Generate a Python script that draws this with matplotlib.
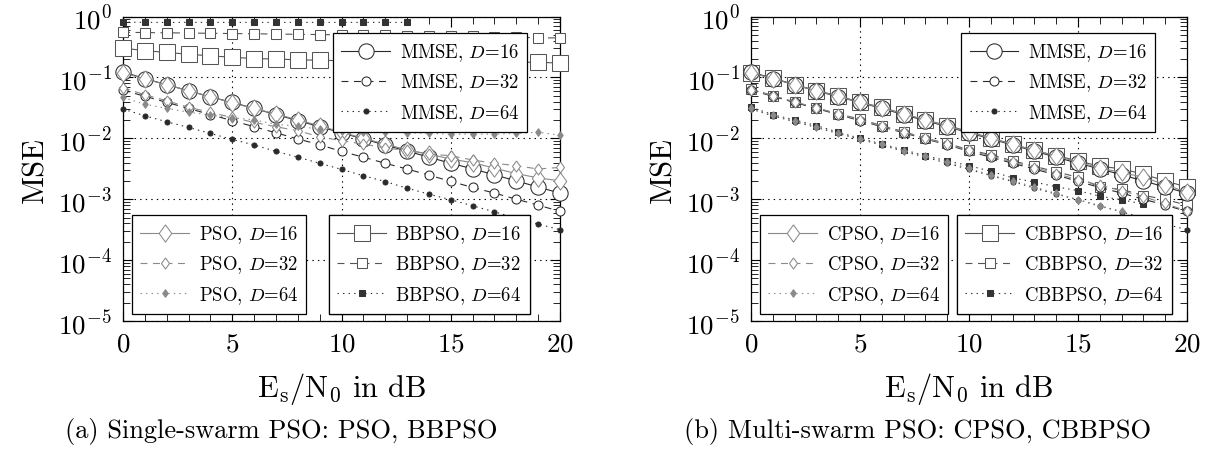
import matplotlib
matplotlib.use("Agg")
import matplotlib.pyplot as plt
from matplotlib.ticker import LogLocator, NullFormatter

plt.rcParams.update({
    "font.family": "serif",
    "font.serif": ["cmr10"],
    "mathtext.fontset": "cm",
    "axes.unicode_minus": False,
    "axes.formatter.use_mathtext": True,
    "lines.scale_dashes": False,
})

snr = list(range(21))

mmse_16 = [0.123, 0.0955, 0.0759, 0.0603, 0.0479, 0.0389, 0.0309, 0.0245, 0.0195, 0.0155, 0.0123,
           0.00977, 0.00776, 0.00617, 0.0049, 0.00389, 0.00316, 0.00251, 0.0020, 0.00158, 0.00126]
mmse_32 = [0.0617, 0.049, 0.0389, 0.0309, 0.0245, 0.0195, 0.0155, 0.0123, 0.00977, 0.00783, 0.0061,
           0.0049, 0.00389, 0.00313, 0.00249, 0.00196, 0.00156, 0.00126, 0.0010, 0.0008, 0.00063]
mmse_64 = [0.0302, 0.0234, 0.0187, 0.0151, 0.012, 0.0096, 0.00776, 0.0061, 0.0049, 0.00389, 0.00309,
           0.00243, 0.00195, 0.00152, 0.00121, 0.00098, 0.00078, 0.00062, 0.00049, 0.00039, 0.000316]

pso_16 = [0.120, 0.094, 0.0759, 0.0604, 0.0482, 0.038, 0.0309, 0.0251, 0.020, 0.0161, 0.0126,
          0.010, 0.00804, 0.00646, 0.0055, 0.00457, 0.00398, 0.00324, 0.00263, 0.00224, 0.0020]
pso_32 = [0.0676, 0.0519, 0.0414, 0.0324, 0.0266, 0.022, 0.0182, 0.0155, 0.0133, 0.0106, 0.00912,
          0.00804, 0.00692, 0.00631, 0.0055, 0.00518, 0.0044, 0.00389, 0.00355, 0.00313, 0.00333]
pso_64 = [0.0468, 0.0363, 0.0309, 0.0269, 0.024, 0.0219, 0.020, 0.017, 0.0158, 0.0141, 0.0132,
          0.0129, 0.0126, 0.0123, 0.012, 0.0117, 0.0117, 0.0117, 0.012, 0.0126, 0.0112]

bbpso_16 = [0.302, 0.275, 0.257, 0.24, 0.226, 0.214, 0.204, 0.200, 0.195, 0.191, 0.188,
            0.186, 0.184, 0.182, 0.182, 0.180, 0.178, 0.178, 0.178, 0.177, 0.172]
bbpso_32 = [0.55, 0.545, 0.54, 0.535, 0.53, 0.525, 0.52, 0.515, 0.51, 0.505, 0.50,
            0.495, 0.49, 0.485, 0.48, 0.475, 0.47, 0.465, 0.46, 0.445, 0.445]
bbpso_64 = [0.81, 0.80, 0.80, 0.80, 0.80, 0.80, 0.80, 0.80, 0.80, 0.80, 0.80, 0.80, 0.80, 0.80]

cpso_16 = [0.120, 0.0955, 0.0759, 0.0603, 0.049, 0.0389, 0.0316, 0.0251, 0.020, 0.0158, 0.0126,
           0.010, 0.00794, 0.00631, 0.00513, 0.00407, 0.00324, 0.00275, 0.00229, 0.00174, 0.00129]
cpso_32 = [0.0631, 0.0501, 0.0398, 0.0316, 0.0251, 0.020, 0.0158, 0.0126, 0.010, 0.00794, 0.00631,
           0.00513, 0.00407, 0.00331, 0.00263, 0.00209, 0.0017, 0.00138, 0.0011, 0.00085, 0.00064]
cpso_64 = [0.0310, 0.0240, 0.0192, 0.0155, 0.0123, 0.0099, 0.0080, 0.0063, 0.0051, 0.0041, 0.0032,
           0.0025, 0.0020, 0.0016, 0.00125, 0.00098, 0.00076, 0.00063]

cbbpso_16 = [0.120, 0.0977, 0.0759, 0.0603, 0.0501, 0.0389, 0.0324, 0.0251, 0.020, 0.0162, 0.0129,
             0.010, 0.00804, 0.00631, 0.00518, 0.00427, 0.00347, 0.00316, 0.00257, 0.0020, 0.00158]
cbbpso_32 = [0.0646, 0.0501, 0.0389, 0.0316, 0.0251, 0.0207, 0.0161, 0.0129, 0.010, 0.00824, 0.00646,
             0.00537, 0.00427, 0.00347, 0.00282, 0.00229, 0.00158, 0.00145, 0.00115, 0.0010, 0.00079]
cbbpso_64 = [0.0324, 0.0245, 0.020, 0.0162, 0.0126, 0.010, 0.00804, 0.00646, 0.00518, 0.00427, 0.00355,
             0.00288, 0.00224, 0.00191, 0.0016, 0.00138, 0.00112, 0.00098, 0.00083]

x_ticks = [0, 5, 10, 15, 20]
captions = ["(a) Single-swarm PSO: PSO, BBPSO", "(b) Multi-swarm PSO: CPSO, CBBPSO"]

DIAMOND = [(0, 1), (0.72, 0), (0, -1), (-0.72, 0), (0, 1)]
SOLID = "-"
DASHED = (0, (5, 4))
DOTTED = (0, (1, 3))
C_MMSE = "#2a2a2a"
C_PSO = "#8a8a8a"
C_BB = "#555555"
C_BBF = "#333333"
LW = 0.8
MEW = 0.75

fig = plt.figure(figsize=(12.28, 4.6), dpi=100)
W, H = 1228.0, 460.0
ax_l = fig.add_axes([123 / W, 1 - 322 / H, 437 / W, 304.5 / H])
ax_r = fig.add_axes([751 / W, 1 - 322 / H, 436 / W, 304.5 / H])


def plot(ax, y, ls, color, marker, ms, filled, label):
    n = len(y)
    return ax.plot(snr[:n], y, linestyle=ls, color=color, lw=LW, marker=marker, markersize=ms,
                   markerfacecolor=(color if filled else "white"), markeredgecolor=color,
                   markeredgewidth=MEW, label=label, clip_on=False, zorder=3)[0]


def style(ax):
    ax.set_yscale("log")
    ax.set_xlim(0, 20)
    ax.set_ylim(1e-5, 1)
    ax.set_xticks(x_ticks)
    ax.set_xticks(range(21), minor=True)
    ax.yaxis.set_major_locator(LogLocator(base=10, numticks=12))
    ax.yaxis.set_minor_locator(LogLocator(base=10, subs=range(2, 10), numticks=12))
    ax.yaxis.set_minor_formatter(NullFormatter())
    ax.tick_params(which="both", direction="in", top=True, right=True, labelsize=19.5)
    ax.tick_params(which="major", length=7, width=0.8, pad=8)
    ax.tick_params(which="minor", length=5, width=0.6)
    ax.grid(True, which="major", linestyle=(0, (1, 3)), color="black", linewidth=0.8)
    for s in ax.spines.values():
        s.set_linewidth(0.9)
    ax.set_ylabel("MSE", fontsize=22, labelpad=6)
    ax.set_xlabel(r"$\mathrm{E_s/N_0}$ in dB", fontsize=22, labelpad=10)


def mmse(ax):
    return [plot(ax, mmse_16, SOLID, C_MMSE, "o", 11, False, r"MMSE, $D$=16"),
            plot(ax, mmse_32, DASHED, C_MMSE, "o", 6.5, False, r"MMSE, $D$=32"),
            plot(ax, mmse_64, DOTTED, C_MMSE, "o", 3.6, True, r"MMSE, $D$=64")]


def legend(ax, handles, loc, anchor):
    lg = ax.legend(handles=handles, loc=loc, bbox_to_anchor=anchor, fontsize=13.5,
                   frameon=True, fancybox=False, framealpha=1, edgecolor="black",
                   handlelength=2.6, handletextpad=0.5, labelspacing=0.45, borderpad=0.45,
                   borderaxespad=0)
    lg.get_frame().set_linewidth(0.9)
    ax.add_artist(lg)
    lg.set_zorder(5)
    return lg


# left panel
ax = ax_l
style(ax)
h_bb = [plot(ax, bbpso_16, SOLID, C_BB, "s", 11, False, r"BBPSO, $D$=16"),
        plot(ax, bbpso_32, DASHED, C_BB, "s", 6.5, False, r"BBPSO, $D$=32"),
        plot(ax, bbpso_64, DOTTED, C_BBF, "s", 4.5, True, r"BBPSO, $D$=64")]
h_m = mmse(ax)
h_p = [plot(ax, pso_16, SOLID, C_PSO, DIAMOND, 12.5, False, r"PSO, $D$=16"),
       plot(ax, pso_32, DASHED, C_PSO, DIAMOND, 8, False, r"PSO, $D$=32"),
       plot(ax, pso_64, DOTTED, C_PSO, DIAMOND, 5.5, True, r"PSO, $D$=64")]
legend(ax, h_m, "upper left", (0.4805, 0.946))
legend(ax, h_p, "lower left", (0.0206, 0.023))
legend(ax, h_bb, "lower left", (0.471, 0.023))

# right panel
ax = ax_r
style(ax)
h_cbb = [plot(ax, cbbpso_16, SOLID, C_BB, "s", 11, False, r"CBBPSO, $D$=16"),
         plot(ax, cbbpso_32, DASHED, C_BB, "s", 6.5, False, r"CBBPSO, $D$=32"),
         plot(ax, cbbpso_64, DOTTED, C_BBF, "s", 4.5, True, r"CBBPSO, $D$=64")]
h_m = mmse(ax)
h_cp = [plot(ax, cpso_16, SOLID, C_PSO, DIAMOND, 12.5, False, r"CPSO, $D$=16"),
        plot(ax, cpso_32, DASHED, C_PSO, DIAMOND, 8, False, r"CPSO, $D$=32"),
        plot(ax, cpso_64, DOTTED, C_PSO, DIAMOND, 5.5, True, r"CPSO, $D$=64")]
legend(ax, h_m, "upper left", (0.482, 0.946))
legend(ax, h_cp, "lower left", (0.0206, 0.023))
legend(ax, h_cbb, "lower left", (0.4725, 0.023))

fig.text(281 / W, 1 - 432 / H, captions[0], fontsize=19, ha="center", va="center")
fig.text(918 / W, 1 - 432 / H, captions[1], fontsize=19, ha="center", va="center")

fig.savefig("out.png", dpi=100)
